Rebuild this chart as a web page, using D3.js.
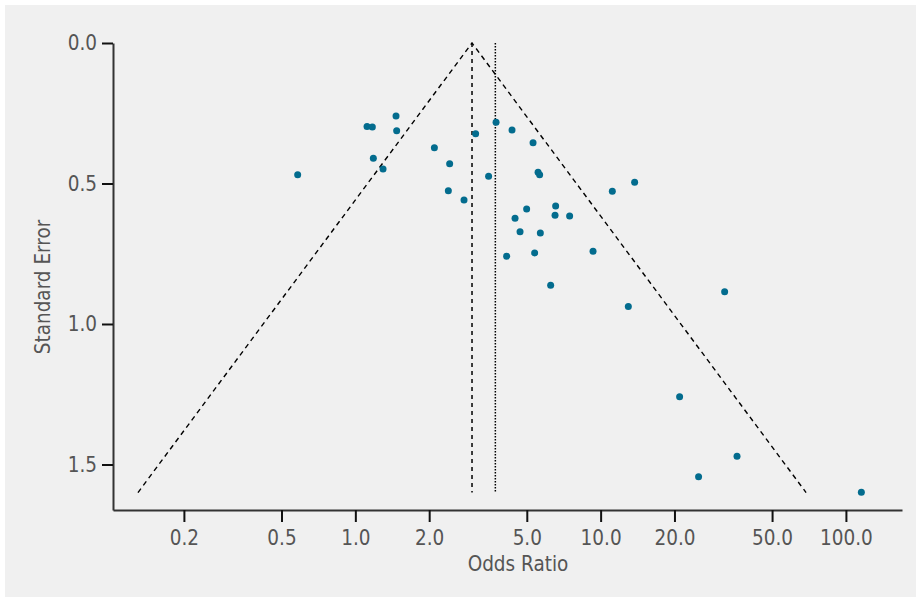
<!DOCTYPE html>
<html>
<head>
<meta charset="utf-8">
<script src="https://cdn.jsdelivr.net/npm/d3@7"></script>
<style>
body { margin: 0; background: #fff; }
text { font-family: "DejaVu Sans Condensed", "DejaVu Sans", sans-serif; fill: #555; }
</style>
</head>
<body>
<script>
// study odds ratios and standard errors
var oddsRatio = [0.582, 1.116, 1.173, 1.465, 1.474, 1.184, 1.297, 2.100, 2.424, 2.394,
	2.774, 3.093, 3.494, 3.747, 4.353, 5.303, 5.558, 5.641, 4.993, 4.478,
	4.693, 5.678, 6.556, 6.519, 7.475, 4.139, 5.383, 9.312, 6.255, 11.16,
	13.76, 12.97, 32.03, 20.99, 35.98, 25.08, 115.6];
var stdError = [0.469, 0.297, 0.299, 0.260, 0.312, 0.410, 0.448, 0.373, 0.430, 0.526,
	0.559, 0.323, 0.474, 0.282, 0.310, 0.355, 0.460, 0.469, 0.591, 0.624,
	0.672, 0.676, 0.580, 0.613, 0.616, 0.759, 0.747, 0.741, 0.862, 0.528,
	0.496, 0.938, 0.885, 1.259, 1.471, 1.544, 1.599];

var pooledOR = 2.99;      // dashed line + funnel apex
var otherOR = 3.722;      // dotted line
var funnelSE = 1.6;

var xTicks = [0.2, 0.5, 1, 2, 5, 10, 20, 50, 100];
var yTicks = [0, 0.5, 1.0, 1.5];

var data = oddsRatio.map((d, i) => ({or: d, se: stdError[i]}));

var W = 921, H = 602;
var margin = {top: 43, right: 19, bottom: 92, left: 113},
	width = W - margin.left - margin.right,
	height = H - margin.top - margin.bottom;

var x = d3.scaleLog()
	.domain([0.1028, 169.3])
	.range([0, width]);

var y = d3.scaleLinear()
	.domain([0, 1.662])
	.range([0, height]);

var root = d3.select("body").append("svg")
	.attr("width", W)
	.attr("height", H);

root.append("rect")
	.attr("x", 5).attr("y", 5)
	.attr("width", W - 10).attr("height", H - 10)
	.attr("fill", "#f0f0f0");

var svg = root.append("g")
	.attr("transform", "translate(" + margin.left + "," + margin.top + ")");

// funnel: pooled log OR +/- 1.96 SE
var lo = Math.exp(Math.log(pooledOR) - 1.96 * funnelSE),
	hi = Math.exp(Math.log(pooledOR) + 1.96 * funnelSE);

svg.append("path")
	.attr("d", d3.line()([[x(lo), y(funnelSE)], [x(pooledOR), y(0)], [x(hi), y(funnelSE)]]))
	.attr("fill", "none")
	.attr("stroke", "#000")
	.attr("stroke-width", 1.4)
	.attr("stroke-dasharray", "5,4");

svg.append("line")
	.attr("x1", x(pooledOR)).attr("x2", x(pooledOR))
	.attr("y1", y(0)).attr("y2", y(funnelSE))
	.attr("stroke", "#000")
	.attr("stroke-width", 1.5)
	.attr("stroke-dasharray", "4,4");

svg.append("line")
	.attr("x1", x(otherOR)).attr("x2", x(otherOR))
	.attr("y1", y(0)).attr("y2", y(funnelSE))
	.attr("stroke", "#000")
	.attr("stroke-width", 1.5)
	.attr("stroke-dasharray", "1.5,1.5");

svg.selectAll("circle")
	.data(data)
	.enter().append("circle")
	.attr("cx", d => x(d.or))
	.attr("cy", d => y(d.se))
	.attr("r", 3.5)
	.attr("fill", "#036c8e");

// axes
svg.append("g")
	.attr("transform", "translate(0," + height + ")")
	.call(d3.axisBottom(x).tickValues(xTicks).tickFormat(d3.format(".1f")).tickSize(12).tickSizeOuter(0).tickPadding(8));

svg.append("g")
	.call(d3.axisLeft(y).tickValues(yTicks).tickFormat(d3.format(".1f")).tickSize(11).tickSizeOuter(0).tickPadding(5));

svg.selectAll(".domain").attr("stroke", "#333").attr("stroke-width", 2);
svg.selectAll(".tick line").attr("stroke", "#111").attr("stroke-width", 2);
svg.selectAll(".tick text")
	.style("font-family", "'DejaVu Sans Condensed', 'DejaVu Sans', sans-serif")
	.style("font-size", "20.5px")
	.attr("fill", "#5a5a5a");

root.append("text")
	.attr("x", 518)
	.attr("y", 571)
	.attr("text-anchor", "middle")
	.style("font-size", "20.5px")
	.text("Odds Ratio");

root.append("text")
	.attr("transform", "translate(50,287) rotate(-90)")
	.attr("text-anchor", "middle")
	.style("font-size", "20.5px")
	.text("Standard Error");
</script>
</body>
</html>
